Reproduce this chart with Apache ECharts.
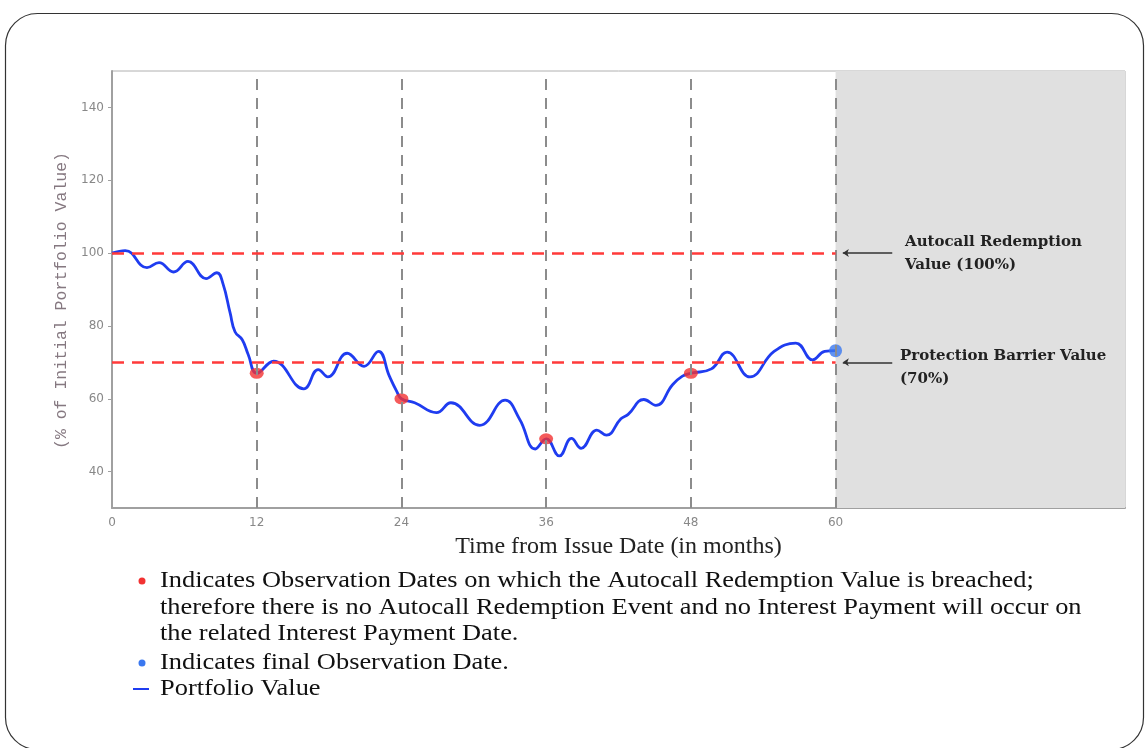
<!DOCTYPE html>
<html>
<head>
<meta charset="utf-8">
<script src="https://cdn.jsdelivr.net/npm/echarts@6/dist/echarts.min.js"></script>
<style>
  html, body { margin: 0; padding: 0; background: #fff; }
  #chart { width: 1145px; height: 748px; }
</style>
</head>
<body>
<div id="chart"></div>
<script>
// 曲线数据（按月）
var months = [0, 1.1, 2.9, 3.9, 5.1, 6.3, 7.8, 8.7, 9.2, 9.8, 10.2, 10.8, 11.3, 12,
  13.4, 15.9, 17.1, 17.9, 19.5, 20.9, 22.1, 23.0, 23.6, 24,
  25.1, 26.9, 28.1, 30.5, 32.6, 33.8, 35.1, 36,
  37.1, 38.1, 38.9, 40.2, 41.0, 42.2, 42.8, 44.1, 45.1, 46.5, 47.3, 48,
  49.7, 51.0, 52.9, 54.9, 56.7, 58.1, 59.1, 60];
var portfolio = [100, 100.7, 96.0, 97.4, 94.8, 97.7, 93.0, 94.6, 91.6, 83.5, 78.4, 76.2, 72.1, 67,
  70.3, 62.7, 68.0, 66.0, 72.5, 68.9, 73.0, 66.2, 62.1, 60,
  58.9, 56.2, 58.9, 52.7, 59.6, 54.4, 46.2, 49,
  44.3, 49.1, 46.4, 51.4, 50.0, 54.5, 55.7, 59.8, 58.2, 63.9, 66.2, 67,
  68.2, 72.8, 66.0, 73.0, 75.3, 70.7, 73.0, 73.2];

// 观察日
var obsMonths = [12, 24, 36, 48];
var obsValues = [67, 60, 49, 67];
var finalMonth = [60];
var finalValue = [73.2];

// 水平线
var autocallLevel = 100;
var barrierLevel = 70;

// 刻度
var xTicks = [0, 12, 24, 36, 48, 60];
var yTicks = [40, 60, 80, 100, 120, 140];
var xMax = 84;

var chart = echarts.init(document.getElementById('chart'));

var lineData = months.map(function (m, i) { return [m, portfolio[i]]; });
var obsData = obsMonths.map(function (m, i) { return [m, obsValues[i]]; });
var finalData = finalMonth.map(function (m, i) { return [m, finalValue[i]]; });

var bodyFont = '24px "Liberation Serif", "Times New Roman", serif';
var noteFont = 'bold 15px "DejaVu Serif", serif';

// 说明文字，稍微横向拉宽
function bodyText(str, y) {
  return {
    type: 'text', x: 160, y: y, z: 10, scaleX: 1.1,
    style: { text: str, font: bodyFont, fill: '#111', verticalAlign: 'middle' }
  };
}
function noteText(str, x, y) {
  return {
    type: 'text', x: x, y: y, z: 10,
    style: { text: str, font: noteFont, fill: '#222', verticalAlign: 'middle' }
  };
}

var option = {
  animation: false,
  grid: {
    left: 112, top: 71, right: 20, bottom: 240,
    show: true, borderColor: '#b0b0b0', borderWidth: 1
  },
  xAxis: {
    type: 'value',
    min: 0, max: xMax,
    name: 'Time from Issue Date (in months)',
    nameLocation: 'middle',
    nameGap: 27,
    nameTextStyle: { fontFamily: 'Liberation Serif', fontSize: 24, color: '#222' },
    axisLine: { lineStyle: { color: '#a0a0a0', width: 2 } },
    axisTick: { show: false },
    splitLine: { show: false },
    axisLabel: { customValues: xTicks, color: '#888', fontSize: 12, fontFamily: 'DejaVu Sans', margin: 9 }
  },
  yAxis: {
    type: 'value',
    min: 30, max: 150, interval: 10,
    name: '(% of Initial Portfolio Value)',
    nameLocation: 'middle',
    nameGap: 40,
    nameTextStyle: { fontFamily: 'Liberation Mono', fontSize: 16.5, color: '#857880', padding: [0, 22, 0, 0] },
    axisLine: { show: true, lineStyle: { color: '#a0a0a0', width: 2 } },
    axisTick: { show: true, customValues: yTicks, length: 4, lineStyle: { color: '#a0a0a0' } },
    splitLine: { show: false },
    axisLabel: { customValues: yTicks, color: '#888', fontSize: 12, fontFamily: 'DejaVu Sans', margin: 8 }
  },
  series: [
    {
      // 背景：灰色区域、网格虚线、红色水平线、箭头
      type: 'line',
      data: [],
      z: 1,
      silent: true,
      markArea: {
        silent: true,
        itemStyle: { color: '#e0e0e0' },
        data: [[{ xAxis: finalMonth[0] }, { xAxis: xMax }]]
      },
      markLine: {
        silent: true,
        symbol: 'none',
        label: { show: false },
        data: xTicks.slice(1).map(function (m) {
          return { xAxis: m, lineStyle: { color: '#8c8c8c', width: 2, type: [11, 8] } };
        }).concat([autocallLevel, barrierLevel].map(function (lv) {
          return [
            { coord: [0, lv], lineStyle: { color: '#ff3a3a', width: 2.5, type: [12, 8] } },
            { coord: [finalMonth[0], lv] }
          ];
        })).concat([autocallLevel, barrierLevel].map(function (lv) {
          return [
            { coord: [64.7, lv], symbol: 'none', lineStyle: { color: '#333', width: 1.5, type: 'solid' } },
            { coord: [60.6, lv], symbol: 'arrow', symbolSize: 6 }
          ];
        }))
      }
    },
    {
      name: 'Portfolio Value',
      type: 'line',
      data: lineData,
      smooth: 0.45,
      showSymbol: false,
      z: 3,
      lineStyle: { color: '#1f3cf0', width: 2.8 }
    },
    {
      type: 'scatter',
      data: obsData,
      symbol: 'circle',
      symbolSize: [14, 11],
      z: 4,
      itemStyle: { color: '#f23232' }
    },
    {
      type: 'scatter',
      data: finalData,
      symbol: 'circle',
      symbolSize: 13,
      z: 4,
      itemStyle: { color: '#3a78f0' }
    }
  ],
  graphic: [
    // 外框
    {
      type: 'rect', left: 3, top: 11, z: -1, silent: true,
      shape: { width: 1138, height: 736, r: 32 },
      style: { fill: 'none', stroke: '#333', lineWidth: 1.2 }
    },
    // 注释文字
    noteText('Autocall Redemption', 905, 242),
    noteText('Value (100%)', 905, 265),
    noteText('Protection Barrier Value', 900, 356),
    noteText('(70%)', 900, 379),
    // 图例说明
    { type: 'circle', z: 10, shape: { cx: 142, cy: 581, r: 3.5 }, style: { fill: '#f23232' } },
    bodyText('Indicates Observation Dates on which the Autocall Redemption Value is breached;', 581),
    bodyText('therefore there is no Autocall Redemption Event and no Interest Payment will occur on', 608),
    bodyText('the related Interest Payment Date.', 634),
    { type: 'circle', z: 10, shape: { cx: 142, cy: 663, r: 3.5 }, style: { fill: '#3a78f0' } },
    bodyText('Indicates final Observation Date.', 663),
    { type: 'line', z: 10, shape: { x1: 133, y1: 689, x2: 149, y2: 689 }, style: { stroke: '#1f3cf0', lineWidth: 2 } },
    bodyText('Portfolio Value', 689)
  ]
};

chart.setOption(option);
</script>
</body>
</html>
